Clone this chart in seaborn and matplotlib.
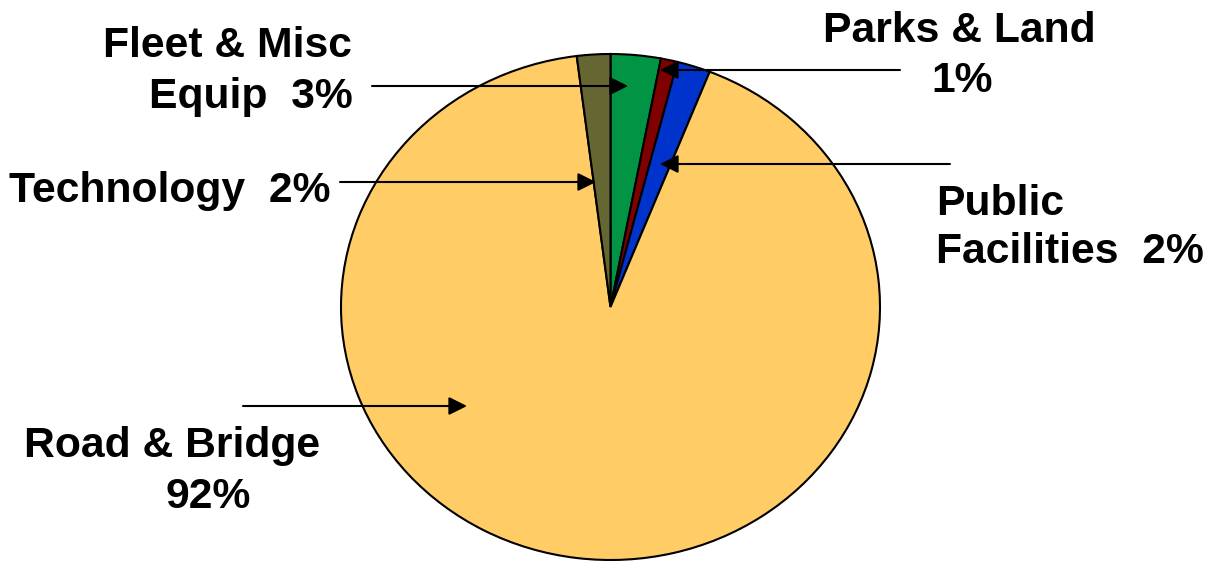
import matplotlib
matplotlib.use("Agg")
import matplotlib.pyplot as plt
import seaborn as sns

# Capital budget shares (percent), listed clockwise from 12 o'clock
categories = ["Fleet & Misc Equip", "Parks & Land", "Public Facilities",
              "Road & Bridge", "Technology"]
shares = [3, 1, 2, 92, 2]
colors = ["#009444", "#800000", "#0033CC", "#FFCC66", "#666633"]

sns.set_theme(style="white")
plt.rcParams["font.family"] = ["Liberation Sans", "DejaVu Sans"]

W, H = 1212, 561
fig = plt.figure(figsize=(W / 100, H / 100), dpi=100)
fig.patch.set_facecolor("white")

# pie occupies a slightly flattened ellipse
ax = fig.add_axes([341 / W, 1 / H, 539 / W, 506 / H])
ax.pie(shares, colors=colors, startangle=90, counterclock=False,
       radius=1.0,
       wedgeprops=dict(edgecolor="black", linewidth=1.5))
ax.set_aspect("auto")
ax.set_xlim(-1, 1)
ax.set_ylim(-1, 1)
ax.axis("off")


def px(x, y):
    """Top-left pixel position -> figure pixel coordinates."""
    return (x, H - y)


fs = 30.7
txt = dict(fontsize=fs, fontweight="bold", color="black", va="baseline")

# text labels, one line per entry: (text, x, baseline y, alignment)
labels = [
    ("Fleet & Misc", 352, 57, "right"),
    ("Equip  3%", 353, 108, "right"),
    ("Parks & Land", 959, 42, "center"),
    ("1%", 962, 92, "center"),
    ("Technology  2%", 9, 202, "left"),
    ("Public", 936, 215, "left"),
    ("Facilities  2%", 936, 263, "left"),
    ("Road & Bridge", 172, 457, "center"),
    ("92%", 208, 508, "center"),
]
for s, x, y, ha in labels:
    fig.text(*px(x, y), s, ha=ha, transform=None, **txt)

# leader arrows: (start, tip)
arrows = [
    ((372, 86), (628, 86)),
    ((900, 70), (660, 70)),
    ((340, 182), (596, 182)),
    ((950, 164), (660, 164)),
    ((243, 406), (467, 406)),
]
for (x0, y0), (x1, y1) in arrows:
    ax.annotate("", xy=px(x1, y1), xycoords="figure pixels",
                xytext=px(x0, y0), textcoords="figure pixels",
                arrowprops=dict(arrowstyle="-|>,head_length=1.1,head_width=0.55",
                                mutation_scale=10, color="black",
                                linewidth=1.5, shrinkA=0, shrinkB=0),
                annotation_clip=False)

fig.savefig("out.png", dpi=100)
